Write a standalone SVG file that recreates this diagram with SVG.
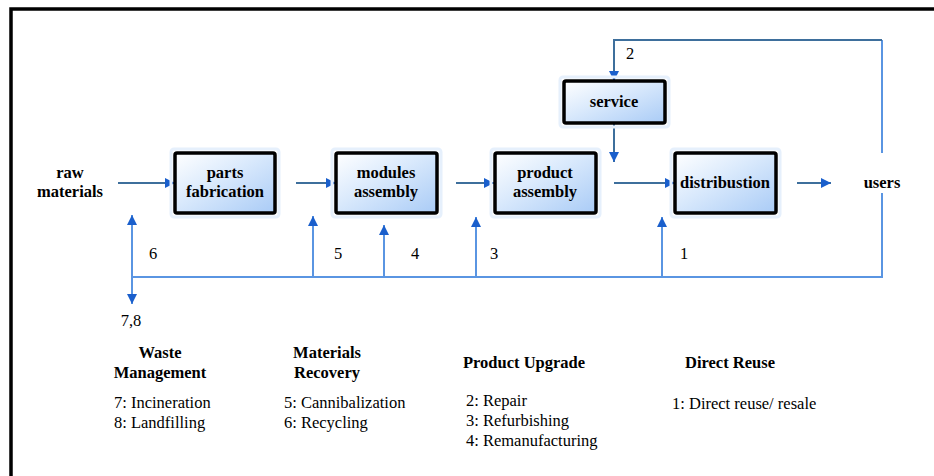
<svg xmlns="http://www.w3.org/2000/svg" width="934" height="476" viewBox="0 0 934 476">
<defs>
<linearGradient id="boxg" x1="0" y1="0" x2="1" y2="1">
<stop offset="0" stop-color="#ffffff"/>
<stop offset="0.45" stop-color="#d9e9fc"/>
<stop offset="1" stop-color="#a9cbf6"/>
</linearGradient>
<marker id="ah" markerUnits="userSpaceOnUse" markerWidth="10" markerHeight="10" refX="10" refY="5" orient="auto" viewBox="0 0 10 10">
<path d="M0,0 L10,5 L0,10 z" fill="#1a5fcc"/>
</marker>
<style>
.box{fill:url(#boxg);stroke:#000;stroke-width:3.5}
.halo{fill:none;stroke:#e6f0fc;stroke-width:3}
.bl{font-weight:bold;font-size:16.5px;text-anchor:middle;fill:#000}
.t{font-size:16.5px;fill:#000}
.tb{font-weight:bold;font-size:16.5px;fill:#000}
.flow{fill:none;stroke:#3e6f9c;stroke-width:2;marker-end:url(#ah)}
.fb{fill:none;stroke:#5a95e2;stroke-width:2}
.fba{fill:none;stroke:#5a95e2;stroke-width:2;marker-end:url(#ah)}
</style>
</defs>
<rect width="934" height="476" fill="#fff"/>
<path d="M11,476 V9 H934" fill="none" stroke="#000" stroke-width="3.5"/>
<g font-family="'Liberation Serif', 'Times New Roman', Tinos, serif">
<g id="connectors">
<path class="flow" d="M118,183 H175"/>
<path class="flow" d="M296,183 H336"/>
<path class="flow" d="M456,183 H494"/>
<path class="flow" d="M614,183 H675"/>
<path class="flow" d="M797,183 H831"/>
<path class="flow" d="M614,124 V162"/>
<path class="fb" d="M882,153 V40" />
<path d="M882,40 H614 V81" fill="none" stroke="#3e6f9c" stroke-width="2" marker-end="url(#ah)"/>
<path class="fb" d="M882,193 V277 H132"/>
<path class="fba" d="M132,277 V215"/>
<path class="fba" d="M132,277 V304"/>
<path class="fba" d="M313,277 V216"/>
<path class="fba" d="M384,277 V225"/>
<path class="fba" d="M476,277 V217"/>
<path class="fba" d="M662,277 V217"/>
<text class="t" x="630" y="59" text-anchor="middle">2</text>
<text class="t" x="153" y="259" text-anchor="middle">6</text>
<text class="t" x="338" y="259" text-anchor="middle">5</text>
<text class="t" x="415" y="259" text-anchor="middle">4</text>
<text class="t" x="494" y="259" text-anchor="middle">3</text>
<text class="t" x="684" y="259" text-anchor="middle">1</text>
<text class="t" x="131" y="326" text-anchor="middle">7,8</text>
</g>
<g id="raw">
<text class="bl" x="70" y="178">raw</text>
<text class="bl" x="70" y="197">materials</text>
</g>
<g id="parts">
<rect class="halo" x="171" y="149" width="108" height="68" rx="3"/>
<rect class="box" x="175" y="153" width="100" height="60" rx="2"/>
<text class="bl" x="225" y="178">parts</text>
<text class="bl" x="225" y="197">fabrication</text>
</g>
<g id="modules">
<rect class="halo" x="332" y="149" width="109" height="68" rx="3"/>
<rect class="box" x="336" y="153" width="101" height="60" rx="2"/>
<text class="bl" x="386" y="178">modules</text>
<text class="bl" x="386" y="197">assembly</text>
</g>
<g id="product">
<rect class="halo" x="491" y="149" width="109" height="68" rx="3"/>
<rect class="box" x="495" y="153" width="101" height="60" rx="2"/>
<text class="bl" x="545" y="178">product</text>
<text class="bl" x="545" y="197">assembly</text>
</g>
<g id="distribution">
<rect class="halo" x="671" y="149" width="109" height="68" rx="3"/>
<rect class="box" x="675" y="153" width="101" height="60" rx="2"/>
<text class="bl" x="725" y="188">distribustion</text>
</g>
<g id="service">
<rect class="halo" x="560" y="77" width="109" height="50" rx="3"/>
<rect class="box" x="564" y="81" width="101" height="42" rx="2"/>
<text class="bl" x="614" y="107">service</text>
</g>
<g id="users">
<text class="bl" x="882" y="188">users</text>
</g>
<g id="legend-waste">
<text class="bl" x="160" y="358">Waste</text>
<text class="bl" x="160" y="378">Management</text>
<text class="t" x="114" y="408">7: Incineration</text>
<text class="t" x="114" y="428">8: Landfilling</text>
</g>
<g id="legend-materials">
<text class="bl" x="327" y="358">Materials</text>
<text class="bl" x="327" y="378">Recovery</text>
<text class="t" x="284" y="408">5: Cannibalization</text>
<text class="t" x="284" y="428">6: Recycling</text>
</g>
<g id="legend-upgrade">
<text class="tb" x="463" y="368">Product Upgrade</text>
<text class="t" x="466" y="406">2: Repair</text>
<text class="t" x="466" y="426">3: Refurbishing</text>
<text class="t" x="466" y="446">4: Remanufacturing</text>
</g>
<g id="legend-reuse">
<text class="tb" x="685" y="368">Direct Reuse</text>
<text class="t" x="672" y="409">1: Direct reuse/ resale</text>
</g>
</g>
</svg>
